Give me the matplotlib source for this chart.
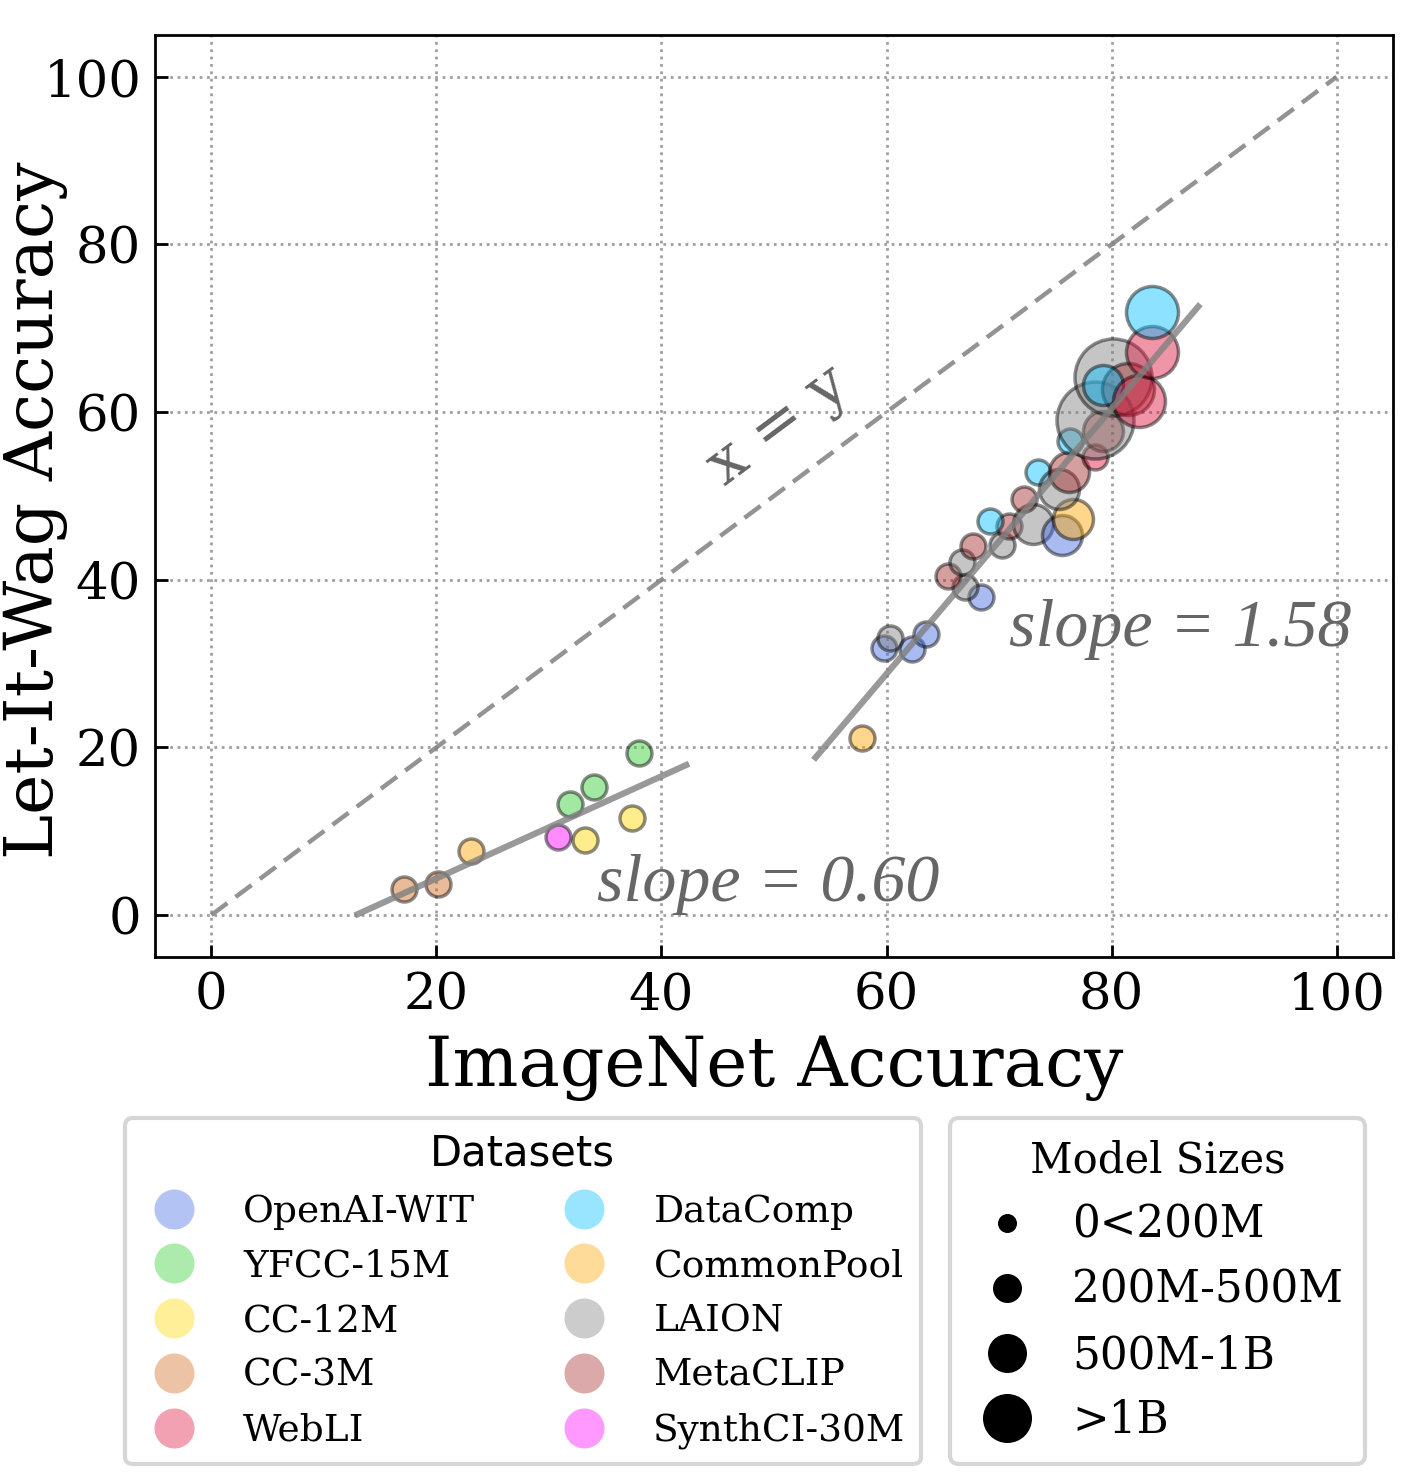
import matplotlib
matplotlib.use("Agg")
import matplotlib.pyplot as plt
from matplotlib.lines import Line2D

plt.rcParams['font.family'] = 'DejaVu Serif'

# dataset -> (base colour, legend label)
datasets = ["OpenAI-WIT", "YFCC-15M", "CC-12M", "CC-3M", "WebLI",
            "DataComp", "CommonPool", "LAION", "MetaCLIP", "SynthCI-30M"]
colors = ["royalblue", "limegreen", "gold", "chocolate", "crimson",
          "deepskyblue", "orange", "gray", "brown", "magenta"]

# points: dataset, ImageNet acc, Let-It-Wag acc, size class
pt_dataset = ["CC-3M", "CC-3M", "CommonPool", "SynthCI-30M", "CC-12M", "CC-12M",
              "YFCC-15M", "YFCC-15M", "YFCC-15M", "CommonPool",
              "OpenAI-WIT", "LAION", "OpenAI-WIT", "OpenAI-WIT",
              "OpenAI-WIT", "LAION", "MetaCLIP", "LAION", "MetaCLIP",
              "LAION", "MetaCLIP", "DataComp", "LAION", "OpenAI-WIT",
              "CommonPool", "MetaCLIP", "DataComp", "LAION", "MetaCLIP",
              "WebLI", "DataComp", "MetaCLIP", "LAION", "LAION",
              "MetaCLIP", "DataComp", "WebLI", "WebLI", "DataComp"]
pt_x = [17.1, 20.1, 23.1, 30.8, 33.2, 37.4,
        31.9, 34.0, 38.0, 57.8,
        59.8, 60.3, 62.3, 63.5,
        68.4, 67.0, 65.5, 66.7, 67.7,
        70.3, 70.9, 69.2, 73.0, 75.6,
        76.6, 72.2, 73.5, 75.3, 76.2,
        78.5, 76.3, 79.2, 78.5, 80.1,
        81.5, 79.2, 82.4, 83.6, 83.6]
pt_y = [3.1, 3.7, 7.7, 9.3, 8.9, 11.6,
        13.2, 15.3, 19.3, 21.1,
        31.9, 33.1, 31.8, 33.5,
        37.9, 39.1, 40.5, 42.1, 44.0,
        44.2, 46.4, 47.0, 46.6, 45.4,
        47.2, 49.6, 52.9, 50.8, 52.8,
        54.7, 56.5, 57.7, 59.1, 64.2,
        62.7, 63.2, 61.3, 67.2, 72.0]
pt_size = [0, 0, 0, 0, 0, 0,
           0, 0, 0, 0,
           0, 0, 0, 0,
           0, 0, 0, 0, 0,
           0, 0, 0, 1, 1,
           1, 0, 0, 1, 1,
           0, 0, 1, 3, 3,
           2, 1, 2, 2, 2]

size_labels = ["0<200M", "200M-500M", "500M-1B", ">1B"]
diam_px = [25, 40, 52, 77]          # marker diameter in the plot (pixels)
legend_diam_px = [19, 29, 39, 49]   # marker diameter in the legend

fit_lo_x = [13.0, 42.2]
fit_lo_y = [0.1, 17.9]
fit_hi_x = [53.7, 87.7]
fit_hi_y = [18.8, 72.6]

DPI = 100
px2pt = 72.0 / DPI

fig = plt.figure(figsize=(14.12, 14.8), dpi=DPI)
ax = fig.add_axes([0.1098, 0.3534, 0.8767, 0.6230])

ax.plot([0, 100], [0, 100], ls=(0, (4.5, 2.3)), color="gray", lw=3.2, alpha=0.85, zorder=2)
ax.plot(fit_lo_x, fit_lo_y, color="gray", lw=4.5, alpha=0.8, zorder=4)
ax.plot(fit_hi_x, fit_hi_y, color="gray", lw=4.5, alpha=0.8, zorder=4)

cmap = dict(zip(datasets, colors))
for d, x, y, s in zip(pt_dataset, pt_x, pt_y, pt_size):
    ax.scatter(x, y, s=(diam_px[s] * px2pt) ** 2, color=cmap[d], alpha=0.45,
               edgecolors="black", linewidths=2.5, zorder=3)

ax.set_xlim(-5, 105)
ax.set_ylim(-5, 105)
ax.set_xticks(range(0, 101, 20))
ax.set_yticks(range(0, 101, 20))
ax.grid(True, ls=":", color="#a0a0a0", lw=2)
ax.tick_params(direction="in", length=9, width=2, labelsize=37, pad=10)
for sp in ax.spines.values():
    sp.set_linewidth(2)
ax.set_xlabel("ImageNet Accuracy", fontsize=50, labelpad=10)
ax.set_ylabel("Let-It-Wag Accuracy", fontsize=49)
ax.yaxis.set_label_coords(-0.07, 0.485)

ax.text(50.4, 58.3, "x = y", fontsize=44, color="#666666", rotation=36.7,
        ha="center", va="center")
ax.text(86.1, 34.1, "slope = 1.58", fontsize=49, color="#666666", style="italic",
        family="Liberation Serif", ha="center", va="center")
ax.text(49.5, 3.7, "slope = 0.60", fontsize=49, color="#666666", style="italic",
        family="Liberation Serif", ha="center", va="center")

ds_handles = [Line2D([], [], ls="", marker="o", markersize=40 * px2pt,
                     markerfacecolor=c, markeredgewidth=0, alpha=0.4)
              for c in colors]
leg1 = fig.legend(ds_handles, datasets, ncol=2, loc="upper left",
                  bbox_to_anchor=(125 / 1412, 1 - 1118 / 1480), borderaxespad=0,
                  fontsize=27,
                  title="Datasets", title_fontproperties={"family": "DejaVu Sans", "size": 30},
                  frameon=True, fancybox=True, edgecolor="#cccccc",
                  handlelength=1.8, handletextpad=0.95, columnspacing=2.0,
                  labelspacing=0.5, borderpad=0.4)
leg1.get_frame().set_linewidth(3)

sz_handles = [Line2D([], [], ls="", marker="o", markersize=d * px2pt,
                     markerfacecolor="black", markeredgewidth=0)
              for d in legend_diam_px]
leg2 = fig.legend(sz_handles, size_labels, loc="upper left",
                  bbox_to_anchor=(950 / 1412, 1 - 1118 / 1480), borderaxespad=0,
                  fontsize=31.5,
                  title="Model Sizes", title_fontsize=30,
                  frameon=True, fancybox=True, edgecolor="#cccccc",
                  handlelength=1.6, handletextpad=0.69,
                  labelspacing=0.5, borderpad=0.5)
leg2.get_frame().set_linewidth(3)

fig.savefig("out.png", dpi=DPI)
